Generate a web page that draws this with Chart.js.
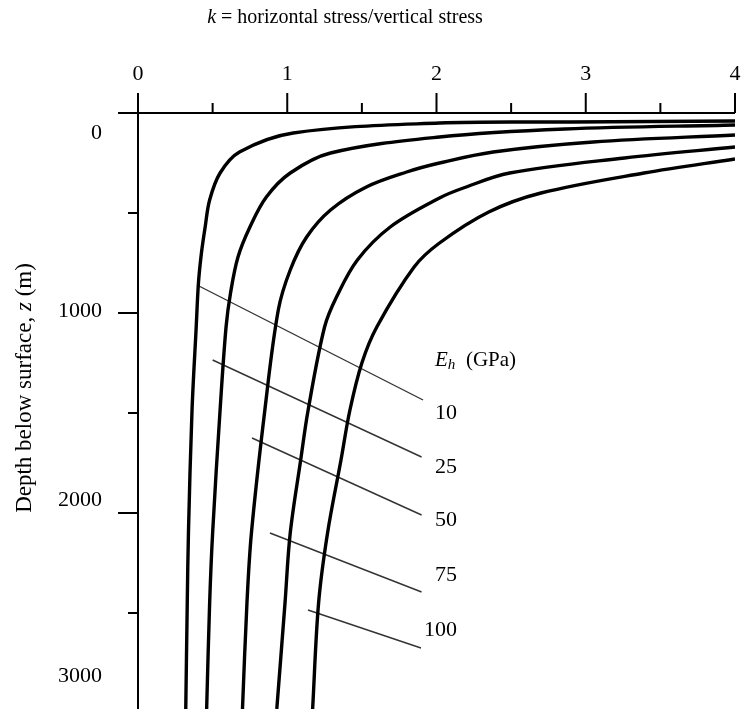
<!DOCTYPE html>
<html>
<head>
<meta charset="utf-8">
<script src="https://cdn.jsdelivr.net/npm/chart.js@4.4.1/dist/chart.umd.min.js"></script>
<style>
html,body{margin:0;padding:0;background:#fff;overflow:hidden}
#wrap{width:750px;height:709px;position:relative}
</style>
</head>
<body>
<div id="wrap"><canvas id="c"></canvas></div>
<script>
// ---- tick values / labels ----
const xTickValues = [0, 0.5, 1, 1.5, 2, 2.5, 3, 3.5, 4];
const xTickLabels = ['0', '', '1', '', '2', '', '3', '', '4'];
const yTickValues = [0, 500, 1000, 1500, 2000, 2500, 3000];
const yTickLabels = ['0', '', '1000', '', '2000', '', '3000'];

// ---- series: E_h (GPa) ----
const seriesNames = ['10', '25', '50', '75', '100'];

const depth10 = [40, 45, 50, 100, 195, 300, 435, 570, 700, 850, 1070, 1485, 2100, 2450, 2980];
const k10     = [4.0, 2.9, 2.02, 1.04, 0.68, 0.55, 0.48, 0.45, 0.425, 0.405, 0.39, 0.362, 0.338, 0.33, 0.32];

const depth25 = [60, 80, 120, 200, 300, 420, 570, 720, 900, 1070, 1485, 2100, 2450, 2980];
const k25     = [4.0, 2.86, 2.02, 1.29, 1.02, 0.86, 0.75, 0.67, 0.62, 0.59, 0.55, 0.50, 0.48, 0.46];

const depth50 = [110, 145, 195, 250, 295, 370, 485, 620, 785, 985, 1485, 2100, 2450, 2980];
const k50     = [4.0, 3.05, 2.38, 2.02, 1.80, 1.53, 1.29, 1.13, 1.02, 0.94, 0.85, 0.76, 0.73, 0.70];

const depth75 = [170, 225, 300, 375, 425, 570, 735, 920, 1070, 1485, 1735, 2100, 2450, 2980];
const k75     = [4.0, 3.26, 2.49, 2.18, 2.02, 1.69, 1.47, 1.33, 1.25, 1.14, 1.09, 1.02, 0.985, 0.93];

const depth100 = [230, 300, 400, 495, 650, 770, 1070, 1250, 1485, 1735, 2100, 2450, 2980];
const k100     = [4.0, 3.39, 2.70, 2.35, 2.02, 1.85, 1.60, 1.50, 1.42, 1.36, 1.27, 1.21, 1.17];

// ---- leader lines (label -> curve) ----
const leaderStartK     = [0.395, 0.50, 0.764, 0.884, 1.139];
const leaderStartDepth = [860, 1235, 1625, 2100, 2485];
const leaderEndK       = [1.91, 1.90, 1.90, 1.90, 1.896];
const leaderEndDepth   = [1435, 1720, 2010, 2395, 2675];

const curveDepths = [depth10, depth25, depth50, depth75, depth100];
const curveKs = [k10, k25, k50, k75, k100];

const datasets = [];
curveKs.forEach((ks, i) => {
  datasets.push({
    label: 'E_h = ' + seriesNames[i] + ' GPa',
    data: ks.map((k, j) => ({x: k, y: curveDepths[i][j]})),
    borderColor: '#000', borderWidth: 3.4, pointRadius: 0, tension: 0.35,
    showLine: true, fill: false
  });
});
seriesNames.forEach((n, i) => {
  datasets.push({
    label: 'leader ' + n,
    data: [{x: leaderStartK[i], y: leaderStartDepth[i]}, {x: leaderEndK[i], y: leaderEndDepth[i]}],
    borderColor: '#333', borderWidth: 1.4, pointRadius: 0, tension: 0,
    showLine: true, fill: false
  });
});

const SERIF = '"Liberation Serif", "Times New Roman", serif';

function drawRich(ctx, parts, x, y, align, size) {
  let total = 0;
  const widths = parts.map(p => {
    ctx.font = (p.italic ? 'italic ' : '') + (p.sub ? size * 0.72 : size) + 'px ' + SERIF;
    const w = ctx.measureText(p.t).width; total += w; return w;
  });
  let cx = align === 'center' ? x - total / 2 : (align === 'right' ? x - total : x);
  ctx.textAlign = 'left';
  ctx.textBaseline = 'middle';
  parts.forEach((p, i) => {
    ctx.font = (p.italic ? 'italic ' : '') + (p.sub ? size * 0.72 : size) + 'px ' + SERIF;
    ctx.fillText(p.t, cx, y + (p.sub ? size * 0.25 : 0));
    cx += widths[i];
  });
}

const decor = {
  id: 'decor',
  beforeDatasetsDraw(chart) {
    const {ctx, chartArea: a, scales: {x, y}} = chart;
    ctx.save();
    ctx.strokeStyle = '#000';
    ctx.lineWidth = 2;
    ctx.beginPath();
    ctx.moveTo(a.left, a.top); ctx.lineTo(a.right, a.top);
    ctx.moveTo(a.left, a.top); ctx.lineTo(a.left, a.bottom);
    xTickValues.forEach((v, i) => {
      const px = x.getPixelForValue(v);
      const len = xTickLabels[i] ? 20 : 10;
      ctx.moveTo(px, a.top); ctx.lineTo(px, a.top - len);
    });
    yTickValues.forEach((v, i) => {
      if (v > y.max) return;
      const py = y.getPixelForValue(v);
      const len = yTickLabels[i] ? 20 : 10;
      ctx.moveTo(a.left, py); ctx.lineTo(a.left - len, py);
    });
    ctx.stroke();
    ctx.restore();
  },
  afterDatasetsDraw(chart, args, opts) {
    const {ctx, chartArea: a, scales: {x, y}} = chart;
    ctx.save();
    ctx.fillStyle = '#000';
    // y tick labels (placed as in the original figure)
    ctx.font = '22px ' + SERIF;
    ctx.textAlign = 'right';
    ctx.textBaseline = 'middle';
    yTickValues.forEach((v, i) => {
      if (!yTickLabels[i]) return;
      const py = Math.min(y.getPixelForValue(v), a.bottom + 3) + (opts.yLabelNudge[v] || 0);
      ctx.fillText(yTickLabels[i], a.left - 36, py);
    });
    // title on top
    drawRich(ctx, [{t: 'k', italic: true}, {t: ' = horizontal stress/vertical stress'}],
      opts.titleX, opts.titleY, 'center', 20);
    // y-axis title
    ctx.save();
    ctx.translate(opts.yTitleX, opts.yTitleY);
    ctx.rotate(-Math.PI / 2);
    drawRich(ctx, [{t: 'Depth below surface, '}, {t: 'z', italic: true}, {t: ' (m)'}], 0, 0, 'center', 23);
    ctx.restore();
    // E_h legend header
    const hx = x.getPixelForValue(opts.headerK), hy = y.getPixelForValue(opts.headerDepth);
    drawRich(ctx, [{t: 'E', italic: true}, {t: 'h', italic: true, sub: true}, {t: '  (GPa)'}], hx, hy, 'left', 21);
    // series labels
    ctx.font = '22px ' + SERIF;
    ctx.textAlign = 'right';
    ctx.textBaseline = 'middle';
    seriesNames.forEach((n, i) => {
      ctx.fillText(n, x.getPixelForValue(opts.labelK), y.getPixelForValue(opts.labelDepth[i]));
    });
    ctx.restore();
  }
};

new Chart(document.getElementById('c'), {
  type: 'scatter',
  data: {datasets},
  options: {
    responsive: true, maintainAspectRatio: false, animation: false,
    layout: {padding: {left: 0, right: 15, top: 0, bottom: 0}},
    plugins: {
      legend: {display: false}, tooltip: {enabled: false}, title: {display: false},
      decor: {
        yLabelNudge: {0: 20, 1000: -2, 2000: -13, 3000: -36},
        titleX: 345, titleY: 18, yTitleX: 25, yTitleY: 388,
        headerK: 1.99, headerDepth: 1235,
        labelK: 2.137, labelDepth: [1500, 1770, 2035, 2310, 2585]
      }
    },
    scales: {
      x: {
        type: 'linear', position: 'top', min: 0, max: 4,
        grid: {display: false, drawTicks: false}, border: {display: false},
        afterBuildTicks: s => { s.ticks = xTickValues.map(v => ({value: v})); },
        afterFit: s => { s.height = 113; s.paddingLeft = 0; s.paddingRight = 0; },
        ticks: {
          autoSkip: false, maxRotation: 0, padding: 26, color: '#000',
          font: {family: SERIF, size: 22},
          callback: (v) => { const i = xTickValues.indexOf(v); return i >= 0 ? xTickLabels[i] : ''; }
        }
      },
      y: {
        type: 'linear', reverse: true, min: 0, max: 2980,
        grid: {display: false, drawTicks: false}, border: {display: false},
        ticks: {display: false},
        afterFit: s => { s.width = 138; s.paddingTop = 0; s.paddingBottom = 0; }
      }
    }
  },
  plugins: [decor]
});
</script>
</body>
</html>
